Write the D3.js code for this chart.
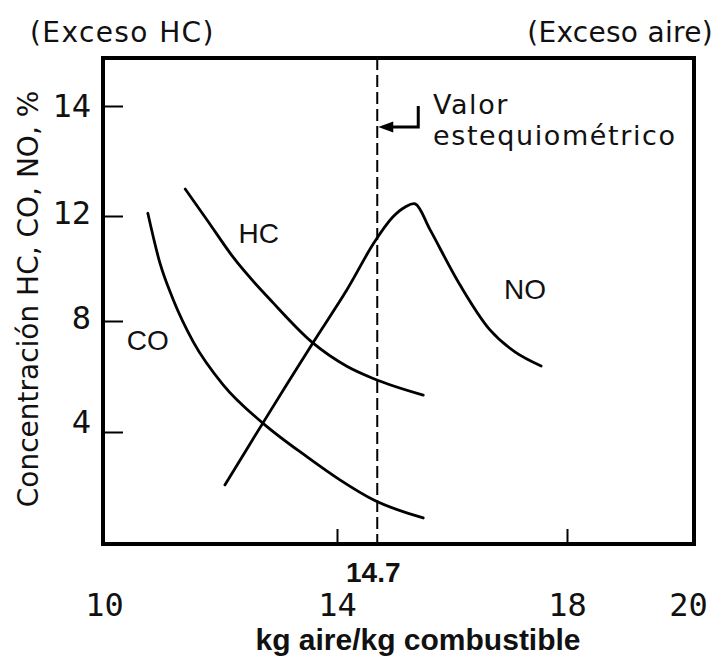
<!DOCTYPE html>
<html>
<head>
<meta charset="utf-8">
<script src="https://cdn.jsdelivr.net/npm/d3@7"></script>
<style>
  html, body { margin: 0; padding: 0; background: #fff; }
  svg { display: block; }
</style>
</head>
<body>
<svg id="chart" width="725" height="657"></svg>
<script>
// Air/fuel ratio (kg air / kg fuel) and concentration (%) along each curve
const coAfr = [10.71, 10.92, 11.15, 11.50, 12.02, 12.71, 13.48, 14.05, 14.64, 15.50];
const coPct = [12.05, 10.21, 8.82, 7.25, 5.70, 4.32, 3.11, 2.29, 1.57, 0.93];

const hcAfr = [11.36, 11.74, 12.19, 12.89, 13.58, 14.17, 14.64, 15.50];
const hcPct = [12.49, 11.85, 10.44, 8.69, 7.21, 6.37, 5.92, 5.33];

const noAfr = [12.05, 12.71, 13.58, 14.17, 14.64, 14.97, 15.18, 15.36, 15.62, 16.14, 16.66, 17.10, 17.55];
const noPct = [2.11, 4.32, 7.21, 9.18, 10.97, 11.96, 12.16, 12.22, 11.47, 9.37, 7.68, 6.88, 6.38];

// Axis ticks and labels
const xTicks = [10, 14, 18, 20];
const xMarkedTicks = [14, 18];
const yTicks = [4, 8, 12, 14];
const stoichAfr = 14.7;
const stoichLabel = "14.7";

const seriesNames = ["CO", "HC", "NO"];

const svg = d3.select("#chart");

// Plot frame
const frame = { left: 103, right: 694, top: 58, bottom: 544 };

const x = d3.scaleLinear().domain([10, 20]).range([107, 682]);
const y = d3.scaleLinear().domain([0, 4, 8, 12, 14]).range([544, 432, 321, 216, 106]);

const sansFont = "'DejaVu Sans', Verdana, sans-serif";
const monoFont = "'DejaVu Sans Mono', monospace";
const arialFont = "'Liberation Sans', Arial, sans-serif";

// Curves: monotone splines for the falling curves, Catmull-Rom for the peaked NO curve
const smoothLine = d3.line()
  .x(d => x(d[0]))
  .y(d => y(d[1]))
  .curve(d3.curveMonotoneX);
const peakLine = d3.line()
  .x(d => x(d[0]))
  .y(d => y(d[1]))
  .curve(d3.curveCatmullRom.alpha(0.5));

const series = [
  { pts: d3.zip(coAfr, coPct), gen: smoothLine },
  { pts: d3.zip(hcAfr, hcPct), gen: smoothLine },
  { pts: d3.zip(noAfr, noPct), gen: peakLine }
];

svg.append("g")
  .selectAll("path")
  .data(series)
  .join("path")
  .attr("d", s => s.gen(s.pts))
  .attr("fill", "none")
  .attr("stroke", "#000")
  .attr("stroke-width", 2.8)
  .attr("stroke-linecap", "round")
  .attr("stroke-linejoin", "round");

// Stoichiometric ratio marker
svg.append("line")
  .attr("x1", x(stoichAfr)).attr("x2", x(stoichAfr))
  .attr("y1", frame.top).attr("y2", frame.bottom)
  .attr("stroke", "#000")
  .attr("stroke-width", 2)
  .attr("stroke-dasharray", "12,5");

// Axes with inward ticks
const xAxis = d3.axisBottom(x)
  .tickValues(xTicks)
  .tickFormat(d3.format("d"))
  .tickSizeInner(-15)
  .tickSizeOuter(0)
  .tickPadding(49);

const gx = svg.append("g")
  .attr("transform", `translate(0,${frame.bottom})`)
  .call(xAxis);
gx.select(".domain").remove();
gx.selectAll(".tick line")
  .attr("stroke-width", 2)
  .attr("display", d => xMarkedTicks.includes(d) ? null : "none");
gx.selectAll(".tick text")
  .attr("font-family", monoFont)
  .attr("font-size", 32)
  .attr("fill", "#111")
  .attr("dx", d => d === 10 ? -3 : d === 20 ? 6 : 0);

const yAxis = d3.axisLeft(y)
  .tickValues(yTicks)
  .tickFormat(d3.format("d"))
  .tickSizeInner(-20)
  .tickSizeOuter(0)
  .tickPadding(12);

// small vertical nudges of the value labels beside their tick marks
const yLabelShift = { 4: -10, 8: -3, 12: -3, 14: 0 };

const gy = svg.append("g")
  .attr("transform", `translate(${frame.left},0)`)
  .call(yAxis);
gy.select(".domain").remove();
gy.selectAll(".tick line").attr("stroke-width", 2);
gy.selectAll(".tick text")
  .attr("font-family", monoFont)
  .attr("font-size", 32)
  .attr("fill", "#111")
  .attr("y", d => yLabelShift[d]);

// Frame
svg.append("rect")
  .attr("x", frame.left).attr("y", frame.top)
  .attr("width", frame.right - frame.left)
  .attr("height", frame.bottom - frame.top)
  .attr("fill", "none")
  .attr("stroke", "#000")
  .attr("stroke-width", 4);

// Curve labels
const labelPos = [[10.71, 7.32], [12.64, 11.35], [17.27, 9.22]];
svg.append("g")
  .selectAll("text")
  .data(seriesNames)
  .join("text")
  .attr("x", (d, i) => x(labelPos[i][0]))
  .attr("y", (d, i) => y(labelPos[i][1]))
  .attr("dy", "0.36em")
  .attr("text-anchor", "middle")
  .attr("font-family", arialFont)
  .attr("font-size", 28)
  .attr("fill", "#111")
  .text(d => d);

// Stoichiometric value under the axis
svg.append("text")
  .attr("x", x(stoichAfr) - 4)
  .attr("y", 582)
  .attr("text-anchor", "middle")
  .attr("font-family", arialFont)
  .attr("font-weight", "bold")
  .attr("font-size", 28)
  .attr("fill", "#111")
  .text(stoichLabel);

// Axis titles
svg.append("text")
  .attr("x", 418)
  .attr("y", 650)
  .attr("text-anchor", "middle")
  .attr("font-family", arialFont)
  .attr("font-weight", "bold")
  .attr("font-size", 30)
  .attr("fill", "#111")
  .text("kg aire/kg combustible");

svg.append("text")
  .attr("transform", "translate(38,299) rotate(-90)")
  .attr("text-anchor", "middle")
  .attr("font-family", sansFont)
  .attr("font-size", 28)
  .attr("fill", "#111")
  .text("Concentración HC, CO, NO, %");

svg.append("text")
  .attr("x", 30).attr("y", 42)
  .attr("font-family", sansFont)
  .attr("font-size", 28)
  .attr("letter-spacing", 1.4)
  .attr("fill", "#111")
  .text("(Exceso HC)");

svg.append("text")
  .attr("x", 713).attr("y", 42)
  .attr("text-anchor", "end")
  .attr("font-family", sansFont)
  .attr("font-size", 28)
  .attr("letter-spacing", 0.3)
  .attr("fill", "#111")
  .text("(Exceso aire)");

// Annotation for the stoichiometric line
const note = svg.append("text")
  .attr("font-family", sansFont)
  .attr("font-size", 27)
  .attr("letter-spacing", 1.6)
  .attr("fill", "#111");
note.append("tspan").attr("x", 433).attr("y", 114).text("Valor");
note.append("tspan").attr("x", 433).attr("y", 145).text("estequiométrico");

const ax = x(stoichAfr);
svg.append("path")
  .attr("d", `M${ax + 41},106 V127 H${ax + 12}`)
  .attr("fill", "none")
  .attr("stroke", "#000")
  .attr("stroke-width", 3);
svg.append("path")
  .attr("d", `M${ax + 1},127 L${ax + 16},121.5 L${ax + 16},132.5 Z`)
  .attr("fill", "#000");
</script>
</body>
</html>
